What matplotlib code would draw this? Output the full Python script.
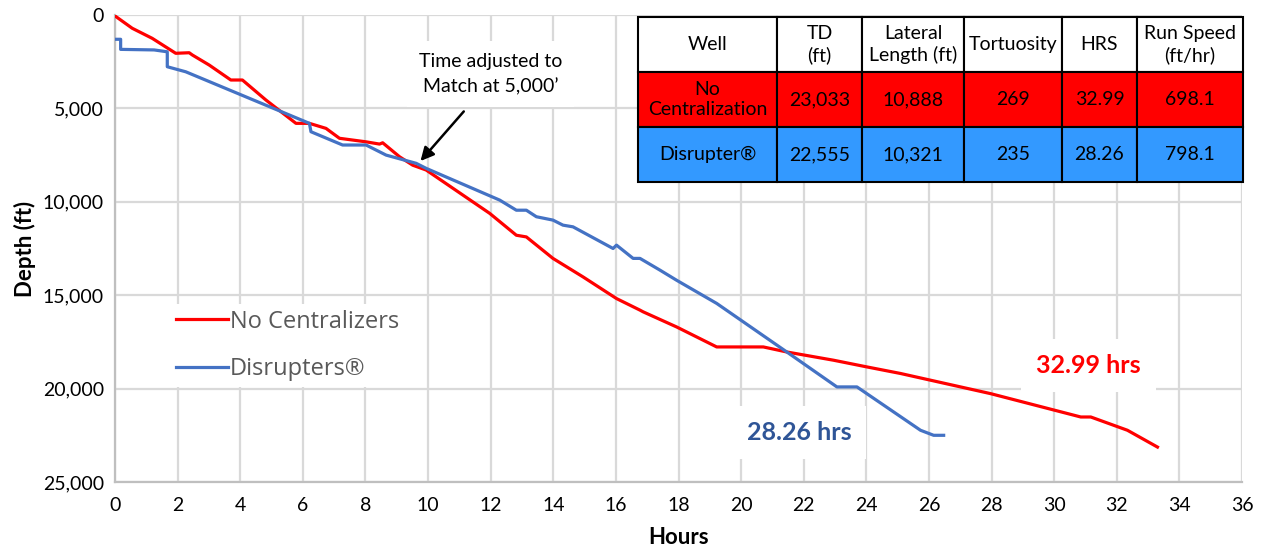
import matplotlib
matplotlib.use("Agg")
from matplotlib import pyplot as plt
from matplotlib.lines import Line2D
from matplotlib.ticker import FuncFormatter, MultipleLocator

# No Centralizers (red) - hours vs depth (ft)
red_hrs = [0.0, 0.55, 1.19, 1.94, 2.37, 2.47, 3.01, 3.70, 4.07, 4.82, 5.78, 6.21, 6.74, 7.17,
           8.02, 8.45, 8.55, 9.09, 9.51, 9.94, 11.97, 12.82, 13.14, 13.99, 14.95, 16.02, 16.77,
           16.87, 17.94, 19.22, 20.71, 21.46, 22.95, 24.02, 25.09, 27.97, 30.85, 31.17, 32.34, 33.30]
red_depth = [50, 710, 1250, 2050, 2020, 2140, 2680, 3480, 3480, 4550, 5800, 5800, 6070, 6600,
             6790, 6910, 6840, 7590, 8040, 8300, 10620, 11790, 11880, 13030, 14020, 15180, 15800,
             15890, 16700, 17770, 17770, 18040, 18480, 18840, 19190, 20270, 21520, 21520, 22230, 23130]

# Disrupters (blue)
blue_hrs = [0.0, 0.18, 0.18, 1.25, 1.67, 1.67, 2.26, 6.21, 6.26, 7.27, 8.02, 8.66, 9.62, 9.94,
            12.29, 12.82, 13.14, 13.46, 13.99, 14.31, 14.63, 15.91, 16.02, 16.55, 16.77, 17.41,
            17.94, 19.22, 21.46, 23.06, 23.70, 25.73, 26.15, 26.47]
blue_depth = [1300, 1300, 1840, 1870, 1970, 2770, 3040, 5800, 6250, 6960, 6960, 7500, 7940, 8210,
              9910, 10450, 10450, 10800, 10980, 11250, 11340, 12500, 12320, 13030, 13030, 13660,
              14200, 15440, 18040, 19910, 19910, 22230, 22500, 22500]

# summary table
col_labels = ["Well", "TD\n(ft)", "Lateral\nLength (ft)", "Tortuosity", "HRS", "Run Speed\n(ft/hr)"]
row_nocent = ["No\nCentralization", "23,033", "10,888", "269", "32.99", "698.1"]
row_disr = ["Disrupter®", "22,555", "10,321", "235", "28.26", "798.1"]
col_px = [139, 85, 102, 98, 75, 106]

RED = "#FF0000"
BLUE = "#4472C4"
GRID = "#D9D9D9"
font = ["Lato", "DejaVu Sans"]
plt.rcParams['font.family'] = font

W, H = 1270, 550
fig = plt.figure(figsize=(W/100, H/100), dpi=100)
ax = fig.add_axes([115/W, 1-482/H, (1242-115)/W, (482-15)/H])

ax.plot(red_hrs, red_depth, color=RED, lw=2.3, zorder=4, solid_joinstyle='round')
ax.plot(blue_hrs, blue_depth, color=BLUE, lw=2.3, zorder=4, solid_joinstyle='round')

ax.set_xlim(0, 36)
ax.set_ylim(25000, 0)
ax.xaxis.set_major_locator(MultipleLocator(2))
ax.yaxis.set_major_locator(MultipleLocator(5000))
ax.yaxis.set_major_formatter(FuncFormatter(lambda v, p: f"{int(v):,}"))
ax.grid(True, color=GRID, lw=1.6, zorder=0)
ax.set_axisbelow(True)
for s in ["top", "right"]:
    ax.spines[s].set_visible(False)
for s in ["left", "bottom"]:
    ax.spines[s].set_color("#BFBFBF")
    ax.spines[s].set_linewidth(1.6)
ax.tick_params(length=0, labelsize=14)
ax.tick_params(axis="x", pad=11)
ax.tick_params(axis="y", pad=8)
ax.set_xlabel("Hours", fontsize=16, fontweight="bold", labelpad=9)
ax.set_ylabel("Depth (ft)", fontsize=16, fontweight="bold", labelpad=5)

# legend
handles = [Line2D([], [], color=RED, lw=2.3), Line2D([], [], color=BLUE, lw=2.3)]
leg = ax.legend(handles, ["No Centralizers", "Disrupters®"], loc="upper left",
                bbox_to_anchor=((158-115)/1127, (482-292)/467), frameon=True, fancybox=False,
                framealpha=1, edgecolor="none", handlelength=2.2, handletextpad=0.1,
                labelspacing=1.0, borderpad=0.25, prop={"family": ["Open Sans", "DejaVu Sans"], "size": 17})
for t in leg.get_texts():
    t.set_color("#595959")

# annotations
ax.text(12.0, 3150, "Time adjusted to\nMatch at 5,000’", ha="center", va="center", fontsize=14,
        linespacing=1.55, zorder=3,
        bbox=dict(facecolor="white", edgecolor="none", boxstyle="square,pad=0.6"))
ax.annotate("", xy=(9.7, 7930), xytext=(11.2, 5050),
            arrowprops=dict(arrowstyle="-|>,head_length=0.8,head_width=0.4", color="black", lw=1.8),
            zorder=5)
ax.text(31.1, 18750, "32.99 hrs", ha="center", va="center", fontsize=18, fontweight="bold",
        color=RED, zorder=3,
        bbox=dict(facecolor="white", edgecolor="none", boxstyle="square,pad=0.6"))
ax.text(21.85, 22350, "28.26 hrs", ha="center", va="center", fontsize=18, fontweight="bold",
        color="#2F5597", zorder=3,
        bbox=dict(facecolor="white", edgecolor="none", boxstyle="square,pad=0.6"))

# table
tax = fig.add_axes([638/W, 1-182/H, 605/W, (182-17)/H])
tax.axis("off")
tot = sum(col_px)
tbl = tax.table(cellText=[col_labels, row_nocent, row_disr],
                cellColours=[["white"]*6, [RED]*6, ["#3399FF"]*6],
                colWidths=[c/tot for c in col_px], cellLoc="center", bbox=[0, 0, 1, 1])
tbl.auto_set_font_size(False)
for (r, c), cell in tbl.get_celld().items():
    cell.set_edgecolor("black")
    cell.set_linewidth(1.5)
    cell.get_text().set_fontsize(14)
    cell.get_text().set_linespacing(1.25)

fig.savefig("out.png", dpi=100)
